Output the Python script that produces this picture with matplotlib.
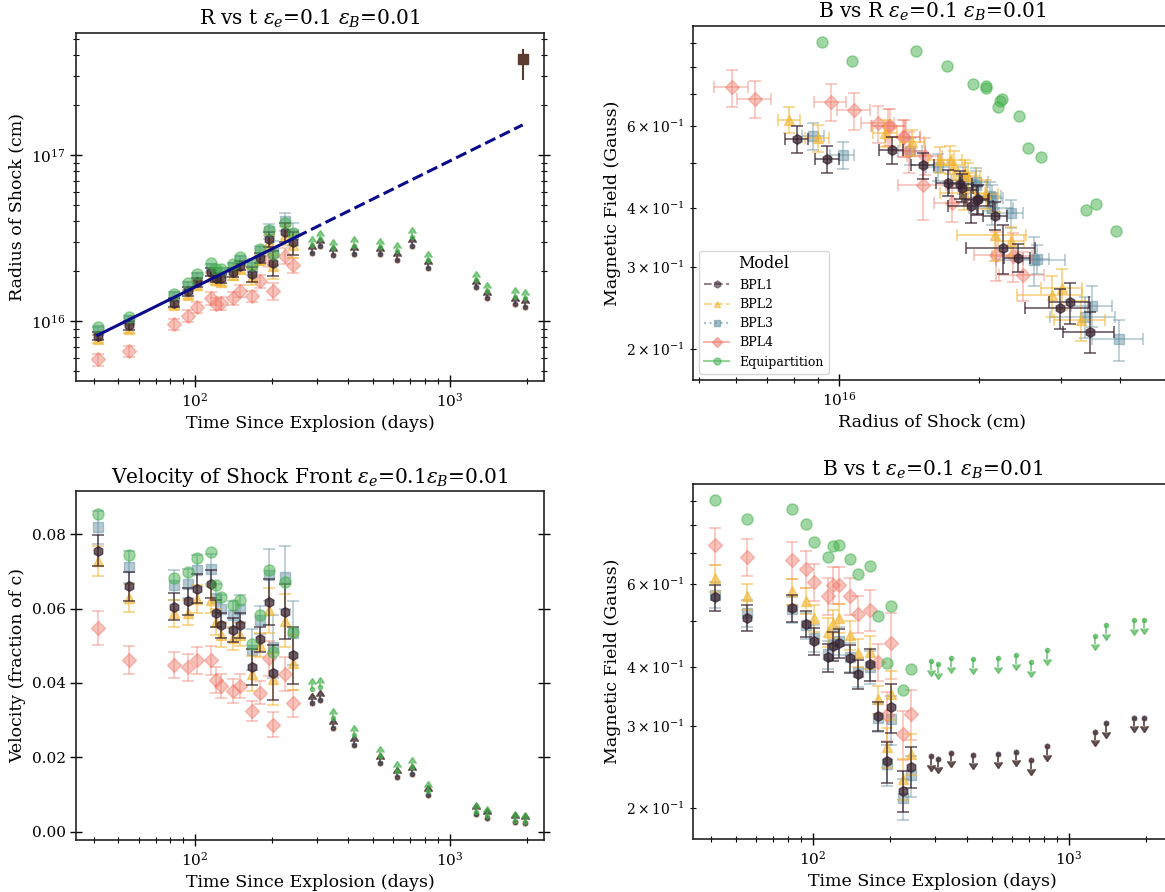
import numpy as np
import matplotlib
matplotlib.use("Agg")
import matplotlib.pyplot as plt
from matplotlib.lines import Line2D

plt.rcParams['font.family'] = ['DejaVu Serif']
plt.rcParams['mathtext.fontset'] = 'dejavuserif'

C_CM_S = 2.998e10
DAY_S = 86400.0

# epochs (days since explosion)
t_det = np.array([41.5, 55.2, 82.7, 94.2, 101.5, 115.0, 120.5, 126.5,
                  140.5, 150.6, 168.0, 180.0, 195.5, 203.0, 225.5, 243.0])
t_lim = np.array([288.5, 309, 348, 422, 531, 621, 711, 820, 1265, 1393, 1804, 1962])

# shock velocity (fraction of c)
v_bpl1 = [0.0755, 0.0660, 0.0605, 0.0620, 0.0653, 0.0666, 0.0587, 0.0555,
          0.0542, 0.0555, 0.0442, 0.0518, 0.0618, 0.0428, 0.0591, 0.0474]
v_bpl2 = [0.0728, 0.0629, 0.0587, 0.0589, 0.0627, 0.0624, 0.0564, 0.0529,
          0.0520, 0.0530, 0.0425, 0.0502, 0.0595, 0.0410, 0.0567, 0.0455]
v_bpl3 = [0.0818, 0.0712, 0.0663, 0.0667, 0.0703, 0.0707, 0.0629, 0.0600,
          0.0584, 0.0600, 0.0490, 0.0569, 0.0690, 0.0497, 0.0684, 0.0535]
v_bpl4 = [0.0547, 0.0461, 0.0448, 0.0442, 0.0461, 0.0461, 0.0409, 0.0392,
          0.0378, 0.0392, 0.0325, 0.0374, 0.0466, 0.0288, 0.0424, 0.0345]
v_eq = [0.0853, 0.0745, 0.0683, 0.0699, 0.0737, 0.0752, 0.0663, 0.0630,
        0.0609, 0.0623, 0.0504, 0.0582, 0.0703, 0.0484, 0.0672, 0.0538]
v_relerr_bpl = [0.055, 0.059, 0.060, 0.058, 0.060, 0.057, 0.060, 0.060,
                0.060, 0.060, 0.110, 0.065, 0.100, 0.170, 0.125, 0.160]
v_relerr_bpl4 = [0.084, 0.082, 0.080, 0.080, 0.080, 0.085, 0.085, 0.085,
                 0.085, 0.085, 0.080, 0.085, 0.100, 0.118, 0.110, 0.104]

# magnetic field (Gauss)
B_bpl1 = [0.562, 0.509, 0.533, 0.494, 0.454, 0.419, 0.443, 0.450,
          0.417, 0.386, 0.405, 0.314, 0.252, 0.329, 0.218, 0.245]
B_bpl2 = [0.618, 0.565, 0.579, 0.553, 0.508, 0.475, 0.495, 0.508,
          0.468, 0.429, 0.431, 0.341, 0.270, 0.350, 0.231, 0.261]
B_bpl3 = [0.570, 0.520, 0.530, 0.490, 0.460, 0.425, 0.448, 0.455,
          0.420, 0.390, 0.400, 0.312, 0.248, 0.310, 0.210, 0.235]
B_bpl4 = [0.725, 0.685, 0.676, 0.647, 0.607, 0.567, 0.598, 0.598,
          0.567, 0.518, 0.529, 0.410, 0.316, 0.449, 0.288, 0.318]
B_eq = [0.906, 0.826, 0.865, 0.806, 0.736, 0.685, 0.722, 0.728,
        0.679, 0.630, 0.657, 0.514, 0.408, 0.538, 0.357, 0.396]
B_relerr_bpl = [0.065, 0.065, 0.065, 0.065, 0.065, 0.070, 0.070, 0.070,
                0.070, 0.070, 0.080, 0.070, 0.100, 0.120, 0.100, 0.100]
B_relerr_bpl4 = [0.090, 0.090, 0.090, 0.090, 0.090, 0.090, 0.090, 0.090,
                 0.090, 0.090, 0.100, 0.090, 0.120, 0.160, 0.120, 0.120]

# limits at late epochs
v_lim_bpl = [0.0345, 0.0354, 0.0278, 0.0233, 0.0184, 0.0146, 0.0155, 0.0099,
             0.0049, 0.0038, 0.0027, 0.0024]
v_lim_eq = [0.0385, 0.0390, 0.0305, 0.0260, 0.0203, 0.0164, 0.0175, 0.0110,
            0.0054, 0.0042, 0.0030, 0.0027]
B_lim_bpl = [0.258, 0.255, 0.262, 0.260, 0.261, 0.264, 0.253, 0.271,
             0.291, 0.303, 0.311, 0.311]
B_lim_eq = [0.411, 0.405, 0.417, 0.415, 0.417, 0.423, 0.409, 0.434,
            0.465, 0.490, 0.502, 0.503]

# single late radius measurement
late_t = 1928.0
late_R = 3.82e17
late_R_err = [[0.99e17], [0.58e17]]

# power-law fit R = R0 (t/t0)^k
fit_t0, fit_R0, fit_k = 41.5, 8.24e15, 0.76
fit_t_split, fit_t_end = 250.0, 1930.0

models = ['BPL1', 'BPL2', 'BPL3', 'BPL4', 'Equipartition']
vel = dict(zip(models, [v_bpl1, v_bpl2, v_bpl3, v_bpl4, v_eq]))
bfield = dict(zip(models, [B_bpl1, B_bpl2, B_bpl3, B_bpl4, B_eq]))
v_relerr = {'BPL1': v_relerr_bpl, 'BPL2': v_relerr_bpl, 'BPL3': v_relerr_bpl,
            'BPL4': v_relerr_bpl4}
B_relerr = {'BPL1': B_relerr_bpl, 'BPL2': B_relerr_bpl, 'BPL3': B_relerr_bpl,
            'BPL4': B_relerr_bpl4}

styles = {
    'BPL1': dict(color='#3a2532', marker='h', ms=7, alpha=0.75, ls='--', z=5),
    'BPL2': dict(color='#f2b531', marker='^', ms=7, alpha=0.6, ls='--', z=4),
    'BPL3': dict(color='#5b8a9c', marker='s', ms=7, alpha=0.45, ls=':', z=2),
    'BPL4': dict(color='#f07a6a', marker='D', ms=7.5, alpha=0.45, ls='-', z=3),
    'Equipartition': dict(color='#43b04a', marker='o', ms=8, alpha=0.5, ls='-', z=6),
}
order = ['BPL3', 'BPL4', 'BPL2', 'BPL1', 'Equipartition']
lim_order = ['BPL2', 'BPL4', 'BPL3', 'BPL1']


def radius(v, t):
    return np.asarray(v) * C_CM_S * np.asarray(t) * DAY_S


def style_axes(ax):
    ax.tick_params(which='major', direction='inout', length=8, width=1,
                   labelsize=11, right=True, top=False)
    ax.tick_params(which='minor', direction='inout', length=5, width=0.8,
                   right=True, top=False)
    for sp in ax.spines.values():
        sp.set_linewidth(1.2)
        sp.set_color('#222222')


def draw_points(ax, x, y, xerr, yerr, name):
    s = styles[name]
    ax.errorbar(x, y, xerr=xerr, yerr=yerr, fmt=s['marker'], ms=s['ms'],
                color=s['color'], ecolor=s['color'], alpha=s['alpha'],
                capsize=4, elinewidth=1.2, capthick=1.2, zorder=s['z'])


def draw_limits(ax, x, y, err, name, up, z, alpha):
    s = styles[name]
    ax.errorbar(x, y, yerr=err, lolims=up, uplims=not up, fmt=s['marker'],
                ms=3, color=s['color'], ecolor=s['color'],
                alpha=alpha, elinewidth=1.3, zorder=z)


fig = plt.figure(figsize=(11.65, 8.92), dpi=100)
W, H = 1165.0, 892.0


def axes_px(left, top, right, bottom):
    return fig.add_axes([left / W, 1 - bottom / H, (right - left) / W, (bottom - top) / H])


ax_rt = axes_px(76, 33, 544, 381)
ax_br = axes_px(693, 26, 1172, 380)
ax_vt = axes_px(76, 491, 544, 840)
ax_bt = axes_px(693, 484, 1172, 839)

TITLE_FS = 14.5
LABEL_FS = 12.5
LIM_ALPHA = 0.55

# R vs t
for name in order:
    R = radius(vel[name], t_det)
    yerr = R * np.asarray(v_relerr[name]) if name in v_relerr else None
    draw_points(ax_rt, t_det, R, None, yerr, name)
for i, name in enumerate(lim_order):
    Rl = radius(v_lim_bpl, t_lim)
    draw_limits(ax_rt, t_lim, Rl, 0.05 * Rl, name, True, 2 + i * 0.1, LIM_ALPHA)
Rl_eq = radius(v_lim_eq, t_lim)
draw_limits(ax_rt, t_lim, Rl_eq, 0.05 * Rl_eq, 'Equipartition', True, 3, 0.65)
ax_rt.errorbar([late_t], [late_R], yerr=late_R_err, fmt='s', ms=7, color='#5a3b30',
               ecolor='#5a3b30', elinewidth=1.5, zorder=7)
t_fit1 = np.geomspace(fit_t0, fit_t_split, 50)
t_fit2 = np.geomspace(fit_t_split, fit_t_end, 50)
ax_rt.plot(t_fit1, fit_R0 * (t_fit1 / fit_t0) ** fit_k, color='#0a0a8c', lw=2.2, zorder=8)
ax_rt.plot(t_fit2, fit_R0 * (t_fit2 / fit_t0) ** fit_k, color='#0a0a8c', lw=2.2,
           ls='--', zorder=8)
ax_rt.set_xscale('log')
ax_rt.set_yscale('log')
ax_rt.set_xlim(34.1, 2340)
ax_rt.set_ylim(4.36e15, 5.46e17)
ax_rt.set_title(r'R vs t $\varepsilon_e$=0.1 $\varepsilon_B$=0.01', fontsize=TITLE_FS)
ax_rt.set_xlabel('Time Since Explosion (days)', fontsize=LABEL_FS)
ax_rt.set_ylabel('Radius of Shock (cm)', fontsize=LABEL_FS)
style_axes(ax_rt)

# B vs R
for name in order:
    R = radius(vel[name], t_det)
    B = np.asarray(bfield[name])
    if name in v_relerr:
        draw_points(ax_br, R, B, R * np.asarray(v_relerr[name]),
                    B * np.asarray(B_relerr[name]), name)
    else:
        draw_points(ax_br, R, B, None, None, name)
ax_br.set_xscale('log')
ax_br.set_yscale('log')
ax_br.set_xlim(4.86e15, 5.18e16)
ax_br.set_ylim(0.172, 0.98)
ax_br.set_title(r'B vs R $\varepsilon_e$=0.1 $\varepsilon_B$=0.01', fontsize=TITLE_FS)
ax_br.set_xlabel('Radius of Shock (cm)', fontsize=LABEL_FS)
ax_br.set_ylabel('Magnetic Field (Gauss)', fontsize=LABEL_FS)
style_axes(ax_br)
handles = [Line2D([], [], color=styles[m]['color'], marker=styles[m]['marker'],
                  ms=5, ls=styles[m]['ls'], alpha=0.55, lw=1.5) for m in models]
ax_br.legend(handles, models, title='Model', loc='lower left', fontsize=9,
             title_fontsize=11.5, framealpha=0.8)

# velocity vs t
for name in order:
    v = np.asarray(vel[name])
    yerr = v * np.asarray(v_relerr[name]) if name in v_relerr else None
    draw_points(ax_vt, t_det, v, None, yerr, name)
for i, name in enumerate(lim_order):
    draw_limits(ax_vt, t_lim, v_lim_bpl, 0.0011, name, True, 2 + i * 0.1, LIM_ALPHA)
draw_limits(ax_vt, t_lim, v_lim_eq, 0.0011, 'Equipartition', True, 3, 0.65)
ax_vt.set_xscale('log')
ax_vt.set_xlim(34.1, 2340)
ax_vt.set_ylim(-0.0022, 0.0916)
ax_vt.set_yticks([0.0, 0.02, 0.04, 0.06, 0.08])
ax_vt.set_title(r'Velocity of Shock Front $\varepsilon_e$=0.1$\varepsilon_B$=0.01',
                fontsize=TITLE_FS)
ax_vt.set_xlabel('Time Since Explosion (days)', fontsize=LABEL_FS)
ax_vt.set_ylabel('Velocity (fraction of c)', fontsize=LABEL_FS)
style_axes(ax_vt)

# B vs t
for name in order:
    B = np.asarray(bfield[name])
    yerr = B * np.asarray(B_relerr[name]) if name in B_relerr else None
    draw_points(ax_bt, t_det, B, None, yerr, name)
for i, name in enumerate(lim_order):
    Bl = np.asarray(B_lim_bpl)
    draw_limits(ax_bt, t_lim, Bl, 0.04 * Bl, name, False, 2 + i * 0.1, LIM_ALPHA)
Bl_eq = np.asarray(B_lim_eq)
draw_limits(ax_bt, t_lim, Bl_eq, 0.04 * Bl_eq, 'Equipartition', False, 3, 0.65)
ax_bt.set_xscale('log')
ax_bt.set_yscale('log')
ax_bt.set_xlim(34.1, 2530)
ax_bt.set_ylim(0.172, 0.98)
ax_bt.set_title(r'B vs t $\varepsilon_e$=0.1 $\varepsilon_B$=0.01', fontsize=TITLE_FS)
ax_bt.set_xlabel('Time Since Explosion (days)', fontsize=LABEL_FS)
ax_bt.set_ylabel('Magnetic Field (Gauss)', fontsize=LABEL_FS)
style_axes(ax_bt)

fig.savefig('out.png', dpi=100)
